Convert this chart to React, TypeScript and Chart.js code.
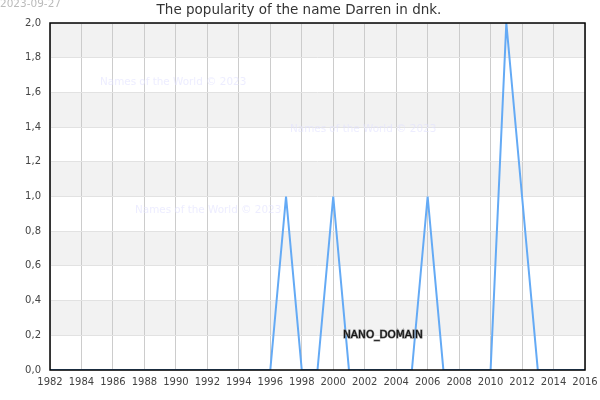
import React, { useEffect, useRef } from "react";
import { Chart, registerables } from "chart.js";

Chart.register(...registerables);

const years: number[] = [
  1982, 1983, 1984, 1985, 1986, 1987, 1988, 1989, 1990, 1991, 1992, 1993,
  1994, 1995, 1996, 1997, 1998, 1999, 2000, 2001, 2002, 2003, 2004, 2005,
  2006, 2007, 2008, 2009, 2010, 2011, 2012, 2013, 2014, 2015, 2016,
];
const popularity: number[] = [
  0, 0, 0, 0, 0, 0, 0, 0, 0, 0, 0, 0,
  0, 0, 0, 1, 0, 0, 1, 0, 0, 0, 0, 0,
  1, 0, 0, 0, 0, 2, 1, 0, 0, 0, 0,
];
const titleText = "The popularity of the name Darren in dnk.";
const dateText = "2023-09-27";
const watermarkText = "Names of the World © 2023";
const domainText = "NANO_DOMAIN";

const FONT = "'DejaVu Sans', sans-serif";

const decorPlugin = {
  id: "decor",
  beforeDraw(chart: any) {
    const { ctx, chartArea, scales } = chart;
    const y = scales.y;
    ctx.save();
    ctx.fillStyle = "#ffffff";
    ctx.fillRect(0, 0, chart.width, chart.height);
    ctx.fillStyle = "#f2f2f2";
    for (let v = 0.2; v < 2.0; v += 0.4) {
      const top = y.getPixelForValue(v + 0.2);
      const bot = y.getPixelForValue(v);
      ctx.fillRect(chartArea.left, top, chartArea.right - chartArea.left, bot - top);
    }
    ctx.restore();
  },
  beforeDatasetsDraw(chart: any) {
    const { ctx } = chart;
    ctx.save();
    ctx.font = `10.4px ${FONT}`;
    ctx.fillStyle = "rgba(225,225,255,0.6)";
    ctx.textBaseline = "middle";
    ctx.textAlign = "left";
    ctx.fillText(watermarkText, 100, 82);
    ctx.fillText(watermarkText, 290, 129);
    ctx.fillText(watermarkText, 135, 210);
    ctx.restore();
  },
  afterDraw(chart: any) {
    const { ctx, chartArea } = chart;
    ctx.save();
    ctx.strokeStyle = "#000000";
    ctx.lineWidth = 1.5;
    ctx.strokeRect(chartArea.left, chartArea.top, chartArea.right - chartArea.left, chartArea.bottom - chartArea.top);
    ctx.font = `13.5px ${FONT}`;
    ctx.fillStyle = "#333333";
    ctx.textAlign = "center";
    ctx.textBaseline = "middle";
    ctx.fillText(titleText, 299, 10);
    ctx.font = `10.5px ${FONT}`;
    ctx.fillStyle = "#bbbbbb";
    ctx.textAlign = "left";
    ctx.fillText(dateText, 0, 4);
    ctx.font = `10.5px ${FONT}`;
    ctx.lineWidth = 1.2;
    ctx.strokeStyle = "#777777";
    ctx.strokeText(domainText, 343, 335);
    ctx.fillStyle = "#111111";
    ctx.fillText(domainText, 343, 335);
    ctx.restore();
  },
};

export default function App() {
  const ref = useRef<HTMLCanvasElement>(null);
  useEffect(() => {
    if (!ref.current) return;
    const chart = new Chart(ref.current, {
      type: "line",
      data: {
        datasets: [
          {
            data: years.map((yr, i) => ({ x: yr, y: popularity[i] })),
            borderColor: "rgb(100,170,245)",
            borderWidth: 2,
            pointRadius: 0,
            tension: 0,
            fill: false,
          },
        ],
      },
      plugins: [decorPlugin],
      options: {
        animation: false,
        responsive: false,
        maintainAspectRatio: false,
        layout: { padding: { top: 23, right: 15, left: 0, bottom: 0 } },
        plugins: {
          legend: { display: false },
          title: { display: false },
          tooltip: { enabled: false },
        },
        scales: {
          x: {
            type: "linear",
            min: 1982,
            max: 2016,
            afterFit: (s: any) => {
              s.height = 30;
              s.paddingRight = 0;
            },
            ticks: {
              stepSize: 2,
              autoSkip: false,
              maxRotation: 0,
              padding: 6,
              color: "#444444",
              font: { family: FONT, size: 10 },
              callback: (v: any) => String(v),
            },
            grid: { color: "#cccccc", drawTicks: false, lineWidth: 1 },
            border: { display: false },
          },
          y: {
            type: "linear",
            min: 0,
            max: 2,
            afterFit: (s: any) => {
              s.width = 50;
            },
            ticks: {
              stepSize: 0.2,
              padding: 9,
              color: "#444444",
              font: { family: FONT, size: 10 },
              callback: (v: any) => Number(v).toFixed(1).replace(".", ","),
            },
            grid: { color: "#e2e2e2", drawTicks: false, lineWidth: 1 },
            border: { display: false },
          },
        },
      },
    });
    return () => chart.destroy();
  }, []);
  return (
    <div style={{ position: "fixed", left: 0, top: 0, width: 600, height: 400, background: "#fff" }}>
      <canvas ref={ref} width={600} height={400} style={{ width: 600, height: 400 }} />
    </div>
  );
}
